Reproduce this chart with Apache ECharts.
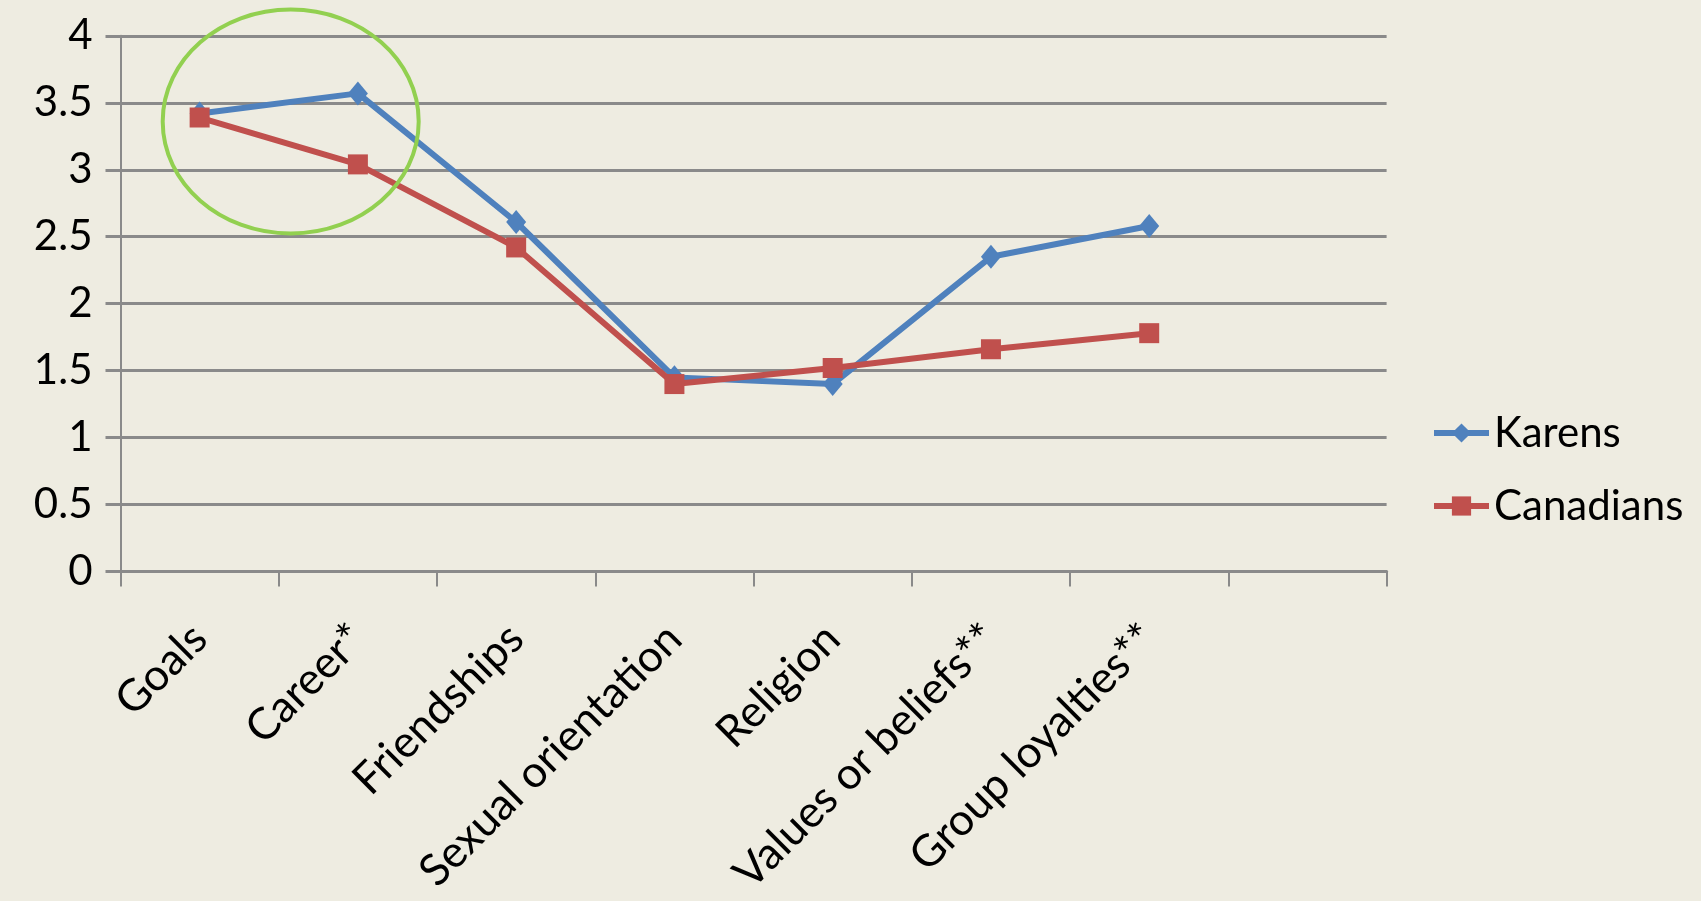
<!DOCTYPE html>
<html>
<head>
<meta charset="utf-8">
<script src="https://cdn.jsdelivr.net/npm/echarts@6/dist/echarts.min.js"></script>
<style>
html,body{margin:0;padding:0;background:#EEECE1;}
#c{width:1701px;height:901px;}
</style>
</head>
<body>
<div id="c"></div>
<script>
const categories = ['Goals','Career*','Friendships','Sexual orientation','Religion','Values or beliefs**','Group loyalties**',''];
const karens = [3.42, 3.57, 2.61, 1.45, 1.40, 2.35, 2.58, null];
const canadians = [3.39, 3.04, 2.42, 1.40, 1.52, 1.66, 1.78, null];
const yTicks = {min:0, max:4, interval:0.5};

const FONT = 'Lato, "Open Sans", sans-serif';
const chart = echarts.init(document.getElementById('c'));
chart.setOption({
  backgroundColor:'#EEECE1',
  animation:false,
  grid:{left:120.5, right:314.4, top:35.8, bottom:329.4},
  legend:{
    orient:'vertical', left:1426, top:403,
    itemWidth:55, itemHeight:24, itemGap:23,
    lineStyle:{width:6},
    textStyle:{fontFamily:FONT, fontSize:42, color:'#000', lineHeight:50},
    data:['Karens','Canadians']
  },
  xAxis:{
    type:'category', data:categories, boundaryGap:true,
    axisLine:{lineStyle:{color:'#8a8a8a', width:3}},
    axisTick:{show:true, length:15, lineStyle:{color:'#8a8a8a', width:2}, interval:0},
    axisLabel:{interval:0, rotate:45, margin:60, color:'#000', fontFamily:FONT, fontSize:44},
    splitLine:{show:false}
  },
  yAxis:{
    type:'value', min:yTicks.min, max:yTicks.max, interval:yTicks.interval,
    axisLine:{show:true, lineStyle:{color:'#8a8a8a', width:2}},
    axisTick:{show:true, length:15, lineStyle:{color:'#8a8a8a', width:3}},
    axisLabel:{margin:28, color:'#000', fontFamily:FONT, fontSize:42},
    splitLine:{show:true, lineStyle:{color:'#8a8a8a', width:3}}
  },
  series:[
    {name:'Karens', type:'line', data:karens, symbol:'diamond', symbolSize:[20,24],
     lineStyle:{color:'#4F81BD', width:6}, itemStyle:{color:'#4F81BD'}, z:3},
    {name:'Canadians', type:'line', data:canadians, symbol:'rect', symbolSize:20,
     lineStyle:{color:'#C0504D', width:6}, itemStyle:{color:'#C0504D'}, z:4}
  ],
  graphic:[{
    type:'ellipse', shape:{cx:290.7, cy:121.5, rx:128, ry:112},
    style:{fill:'none', stroke:'#92D050', lineWidth:4}, z:10
  }]
});
</script>
</body>
</html>
